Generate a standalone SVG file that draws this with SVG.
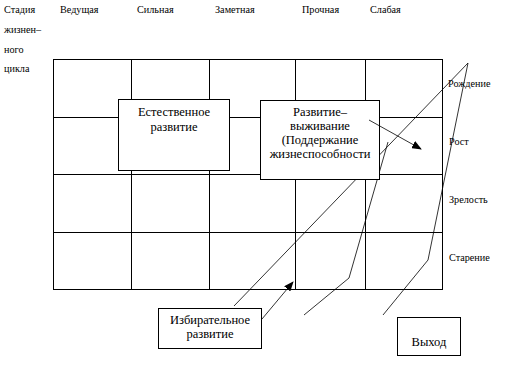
<svg xmlns="http://www.w3.org/2000/svg" width="508" height="365" viewBox="0 0 508 365">
<style>
.t{font-size:10.2px}
.b{font-size:12.5px;text-anchor:middle}
.g{stroke:#000;stroke-width:1;fill:none}
.box{fill:#fff;stroke:#000;stroke-width:1}
.ln{stroke:#000;stroke-width:0.8;fill:none}
</style>
<defs>
<marker id="ah" markerWidth="10" markerHeight="8" refX="9" refY="4" orient="auto" markerUnits="userSpaceOnUse">
<path d="M0,0 L10,4 L0,8 Z" fill="#000"/>
</marker>
</defs>
<rect width="508" height="365" fill="#fff"/>
<g id="labels" font-family="'Liberation Serif', 'Times New Roman', serif" fill="#000">
<text class="t" x="4" y="13">Стадия</text>
<text class="t" x="4" y="33">жизнен–</text>
<text class="t" x="4" y="53">ного</text>
<text class="t" x="4" y="72">цикла</text>
<text class="t" x="60" y="13">Ведущая</text>
<text class="t" x="137" y="13">Сильная</text>
<text class="t" x="215" y="13">Заметная</text>
<text class="t" x="302" y="13">Прочная</text>
<text class="t" x="370" y="13">Слабая</text>
<text class="t" x="448" y="87">Рождение</text>
<text class="t" x="449" y="145">Рост</text>
<text class="t" x="449" y="203">Зрелость</text>
<text class="t" x="449" y="261">Старение</text>
</g>
<g id="grid" class="g">
<rect x="53.5" y="59.5" width="389" height="230"/>
<path d="M131.5,59.5V289.5M209.5,59.5V289.5M295.5,59.5V289.5M365.5,59.5V289.5M53.5,117.5H442.5M53.5,174.5H442.5M53.5,232.5H442.5"/>
</g>
<g id="connectors">
<path class="ln" d="M468,63 L234,306"/>
<path class="ln" d="M468,63 L428,260 L383,315"/>
<path class="ln" d="M388,142 L349,278 L304,315"/>
</g>
<g id="node-natural" font-family="'Liberation Serif', 'Times New Roman', serif" fill="#000">
<rect class="box" x="118.5" y="99.5" width="111" height="71"/>
<text class="b" x="174" y="116">Естественное</text>
<text class="b" x="174" y="131">развитие</text>
</g>
<g id="node-survival" font-family="'Liberation Serif', 'Times New Roman', serif" fill="#000">
<rect class="box" x="260.5" y="100.5" width="119" height="79"/>
<text class="b" x="320" y="116">Развитие–</text>
<text class="b" x="320" y="130">выживание</text>
<text class="b" x="320" y="144">(Поддержание</text>
<text class="b" x="320" y="158">жизнеспособности</text>
</g>
<g id="node-selective" font-family="'Liberation Serif', 'Times New Roman', serif" fill="#000">
<rect class="box" x="158.5" y="308.5" width="103" height="40"/>
<text class="b" x="210" y="324">Избирательное</text>
<text class="b" x="210" y="338">развитие</text>
</g>
<g id="node-exit" font-family="'Liberation Serif', 'Times New Roman', serif" fill="#000">
<rect class="box" x="397.5" y="317.5" width="63" height="38"/>
<text class="b" x="429" y="346">Выход</text>
</g>
<g id="arrows">
<path class="ln" d="M369,120 L421,149" marker-end="url(#ah)"/>
<path class="ln" d="M262,319 L293,282" marker-end="url(#ah)"/>
</g>
</svg>
